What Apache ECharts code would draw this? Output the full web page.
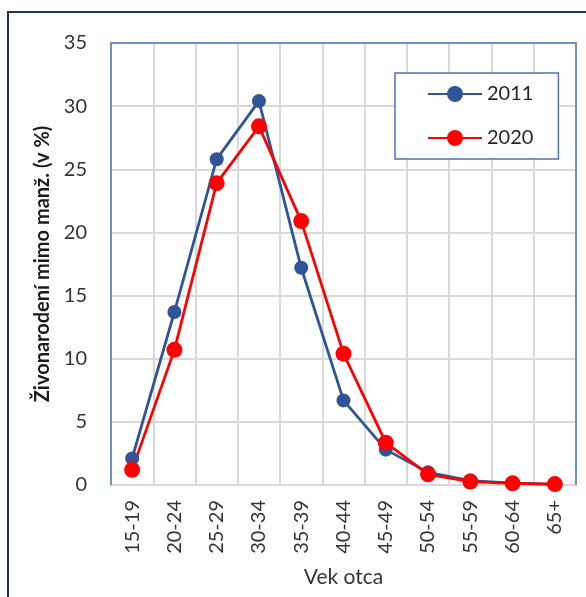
<!DOCTYPE html>
<html>
<head>
<meta charset="utf-8">
<script src="https://cdn.jsdelivr.net/npm/echarts@6/dist/echarts.min.js"></script>
<style>
  html, body { margin: 0; padding: 0; background: #fff; }
  #chart { width: 586px; height: 597px; }
</style>
</head>
<body>
<div id="chart"></div>
<script>
// Vekové skupiny otca
const ageGroups = ['15-19', '20-24', '25-29', '30-34', '35-39', '40-44', '45-49', '50-54', '55-59', '60-64', '65+'];
// Podiel živonarodených mimo manželstva (v %)
const values2011 = [2.1, 13.7, 25.8, 30.4, 17.2, 6.7, 2.8, 1.0, 0.35, 0.15, 0.05];
const values2020 = [1.2, 10.7, 23.9, 28.4, 20.9, 10.4, 3.35, 0.85, 0.27, 0.13, 0.07];
const yTicks = { min: 0, max: 35, step: 5 };

const FONT = 'Lato, "Open Sans", sans-serif';
const PLOT = { left: 111, top: 43, width: 465, height: 442 };

const chart = echarts.init(document.getElementById('chart'), null, { renderer: 'canvas' });

chart.setOption({
  animation: false,
  backgroundColor: '#fff',
  textStyle: { fontFamily: FONT },
  graphic: [
    {
      // plot area frame (left, top, right)
      type: 'polyline',
      shape: {
        points: [
          [PLOT.left, PLOT.top + PLOT.height],
          [PLOT.left, PLOT.top],
          [PLOT.left + PLOT.width, PLOT.top],
          [PLOT.left + PLOT.width, PLOT.top + PLOT.height]
        ]
      },
      style: { fill: 'none', stroke: '#7190CB', lineWidth: 2 },
      z: 1
    },
    {
      // outer chart frame
      type: 'rect',
      shape: { x: 8, y: 12, width: 640, height: 640 },
      style: { fill: 'none', stroke: '#1f3560', lineWidth: 2 },
      z: 100
    }
  ],
  grid: {
    left: PLOT.left, top: PLOT.top, width: PLOT.width, height: PLOT.height,
    show: false
  },
  legend: {
    left: 395, top: 73,
    orient: 'vertical',
    backgroundColor: '#fff',
    borderColor: '#4F72BA', borderWidth: 1.5,
    padding: [10, 25, 10, 32],
    itemWidth: 54, itemHeight: 20, itemGap: 22, itemTextGap: 6,
    textStyle: { fontSize: 20, lineHeight: 22, color: '#262626', fontFamily: FONT },
    data: ['2011', '2020']
  },
  xAxis: {
    type: 'category',
    data: ageGroups,
    boundaryGap: true,
    name: 'Vek otca',
    nameLocation: 'middle',
    nameGap: 82,
    nameTextStyle: { fontSize: 21, color: '#333333' },
    axisLine: { show: true, lineStyle: { color: '#D9D9D9', width: 2 } },
    axisTick: { show: false },
    axisLabel: { rotate: 90, fontSize: 20, color: '#333333', margin: 15, interval: 0 },
    splitLine: { show: true, interval: 0, lineStyle: { color: '#D9D9D9', width: 2 } }
  },
  yAxis: {
    type: 'value',
    min: yTicks.min, max: yTicks.max, interval: yTicks.step,
    name: 'Živonarodení mimo manž. (v %)',
    nameLocation: 'middle',
    nameRotate: 90,
    nameGap: 54,
    nameTextStyle: { fontSize: 20, fontWeight: 'bold', color: '#1a1a1a' },
    axisLine: { show: false },
    axisTick: { show: false },
    axisLabel: { fontSize: 20, color: '#333333', margin: 24 },
    splitLine: { show: true, lineStyle: { color: '#D9D9D9', width: 2 } }
  },
  series: [
    {
      name: '2011', type: 'line', data: values2011,
      symbol: 'circle', symbolSize: 14,
      lineStyle: { color: '#2F5597', width: 2.8 },
      itemStyle: { color: '#2F5597' }
    },
    {
      name: '2020', type: 'line', data: values2020,
      symbol: 'circle', symbolSize: 16,
      lineStyle: { color: '#FF0000', width: 2.8 },
      itemStyle: { color: '#FF0000' }
    }
  ]
});
</script>
</body>
</html>
